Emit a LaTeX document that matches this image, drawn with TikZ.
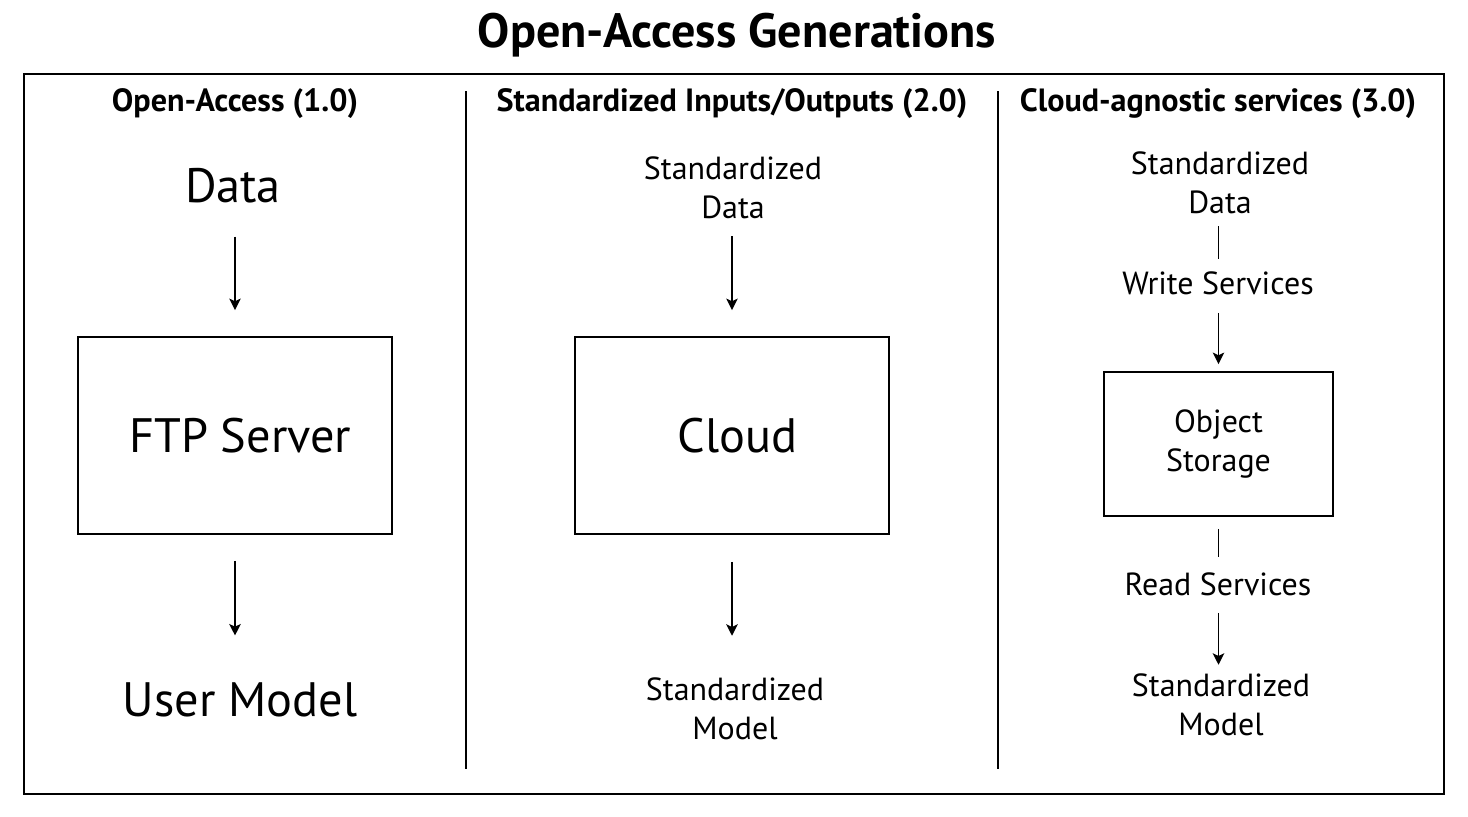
\documentclass[tikz,border=0pt]{standalone}
\usepackage{fontspec}
\setmainfont{PT Sans}
\usepackage{tikz}
\usetikzlibrary{shapes.geometric, arrows.meta}
\tikzstyle{plainbox} = [rectangle, draw=black, line width=1.1pt, align=center, inner sep=0pt]
\tikzstyle{txt} = [align=center, inner sep=0pt]
\tikzstyle{big} = [txt, font=\fontsize{27.5}{33}\selectfont]
\tikzstyle{small} = [txt, font=\fontsize{18.2}{22}\selectfont]
\tikzstyle{head} = [txt, font=\fontsize{18.3}{22}\selectfont\bfseries]
\tikzstyle{arrow} = [line width=1.1pt,-{Stealth[length=6.5pt, width=6.5pt, inset=1.5pt]}]
\tikzstyle{line} = [line width=1.1pt]

\begin{document}
\begin{tikzpicture}[x=0.02cm, y=-0.02cm]
      \useasboundingbox (0,0) rectangle (1468,816);
      \node (title) [txt, font=\fontsize{27.4}{33}\selectfont\bfseries] at (737,35) {Open-Access Generations};
      \draw [line] (24,74) rectangle (1444,794);
      \draw [line] (466,91) -- (466,769);
      \draw [line] (998,91) -- (998,769);

      % 1.0
      \node (head1) [head] at (235,104) {Open-Access (1.0)};
      \node (data) [big] at (233,186) {Data};
      \node (ftp) [plainbox, minimum width=6.28cm, minimum height=3.94cm, font=\fontsize{27.5}{33}\selectfont] at (235,435.5) {\hspace{6pt}FTP Server};
      \node (user) [big] at (240,700) {User Model};
      \draw [arrow, shorten <=0.66cm, shorten >=0.52cm] (data.south -| ftp) -- (ftp);
      \draw [arrow, shorten <=0.52cm, shorten >=0.94cm] (ftp) -- (ftp |- user.north);

      % 2.0
      \node (head2) [head] at (732,104) {Standardized Inputs/Outputs (2.0)};
      \node (sdata) [small] at (733,188) {Standardized\\Data};
      \node (cloud) [plainbox, minimum width=6.28cm, minimum height=3.94cm, font=\fontsize{27.5}{33}\selectfont] at (732,435.5) {\hspace{6pt}Cloud};
      \node (smodel) [small] at (735,709) {Standardized\\Model};
      \draw [arrow, shorten <=0.34cm, shorten >=0.52cm] (sdata.south -| cloud) -- (cloud);
      \draw [arrow, shorten <=0.54cm, shorten >=0.84cm] (cloud) -- (cloud |- smodel.north);

      % 3.0
      \node (head3) [head] at (1218,104) {Cloud-agnostic services (3.0)};
      \node (cdata) [small] at (1220,183) {Standardized\\Data};
      \node (write) [small] at (1218,283) {Write Services};
      \node (obj) [plainbox, minimum width=4.58cm, minimum height=2.88cm, font=\fontsize{18.2}{22}\selectfont] at (1218.5,444) {Object\\Storage};
      \node (read) [small] at (1218,584) {Read Services};
      \node (cmodel) [small] at (1221,705) {Standardized\\Model};
      \draw [line, shorten <=0.24cm, shorten >=0.24cm] (cdata.south -| obj) -- (obj |- write.north);
      \draw [arrow, shorten <=0.36cm, shorten >=0.14cm] (obj |- write.south) -- (obj);
      \draw [line, shorten <=0.24cm, shorten >=0.3cm] (obj) -- (obj |- read.north);
      \draw [arrow, shorten <=0.34cm, shorten >=0.18cm] (obj |- read.south) -- (obj |- cmodel.north);
    \end{tikzpicture}
\end{document}
